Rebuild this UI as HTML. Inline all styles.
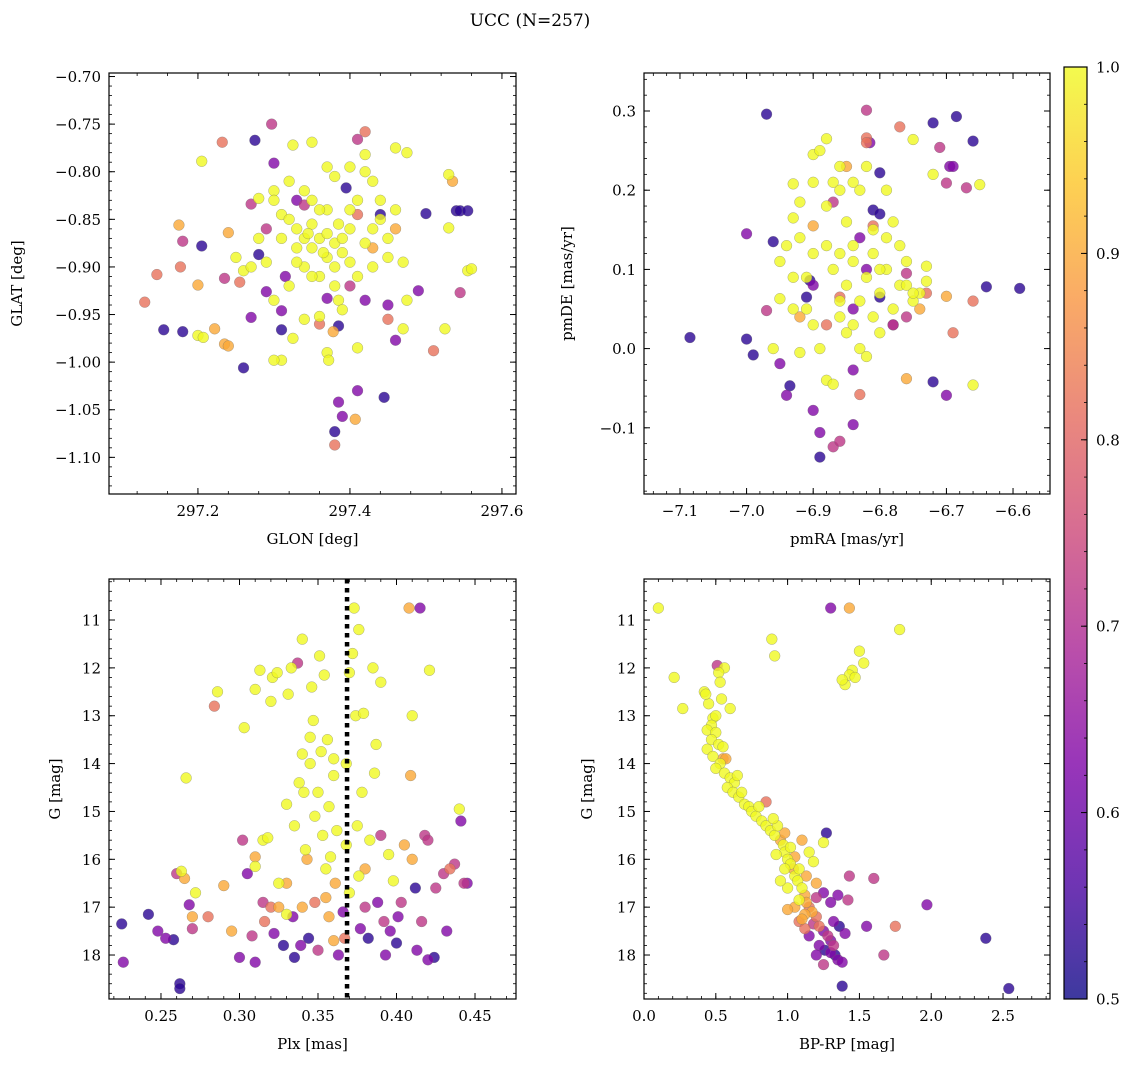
<!DOCTYPE html>
<html><head><meta charset="utf-8">
<style>
html,body{margin:0;padding:0;background:#fff;}
svg{display:block;font-family:"DejaVu Serif","Liberation Serif",serif;}
</style></head>
<body>
<svg id="chart" width="1136" height="1067" viewBox="0 0 1136 1067" xmlns="http://www.w3.org/2000/svg">
<text x="530" y="26" font-size="17" text-anchor="middle">UCC (N=257)</text>
<defs>
<linearGradient id="plasma" x1="0" y1="1" x2="0" y2="0">
<stop offset="0" stop-color="#0d0887"/><stop offset="0.125" stop-color="#4c02a1"/><stop offset="0.25" stop-color="#7e03a8"/><stop offset="0.375" stop-color="#a92395"/><stop offset="0.5" stop-color="#cc4778"/><stop offset="0.625" stop-color="#e56b5d"/><stop offset="0.75" stop-color="#f89540"/><stop offset="0.875" stop-color="#fdc527"/><stop offset="1" stop-color="#f0f921"/>
</linearGradient>
</defs>
<g id="panels"></g>
</svg>
<script>
// color values: Y=yellow, O=orange, S=salmon, M=magenta, P=purple, D=dark
const Y=1.0,O=0.9,S=0.82,M=0.72,P=0.63,D=0.53;
const glonGlat=[
[297.146,-0.908,S],[297.13,-0.937,S],[297.155,-0.966,D],[297.18,-0.968,D],[297.175,-0.856,O],[297.18,-0.873,M],[297.177,-0.900,S],[297.205,-0.878,D],[297.2,-0.919,O],[297.205,-0.789,Y],[297.2,-0.972,Y],[297.207,-0.974,Y],[297.232,-0.769,S],[297.222,-0.965,O],[297.235,-0.981,O],[297.24,-0.983,O],[297.24,-0.864,O],[297.235,-0.912,M],[297.255,-0.916,S],[297.26,-0.904,Y],[297.26,-1.006,D],[297.27,-0.953,P],[297.27,-0.834,M],[297.275,-0.767,D],[297.28,-0.828,Y],[297.28,-0.887,D],[297.29,-0.926,P],[297.297,-0.750,M],[297.3,-0.791,P],[297.31,-0.966,D],[297.31,-0.946,P],[297.31,-0.998,Y],[297.3,-0.998,Y],[297.325,-0.772,Y],[297.33,-0.83,P],[297.35,-0.769,Y],[297.36,-0.952,Y],[297.37,-0.933,P],[297.37,-0.99,Y],[297.372,-0.998,Y],[297.385,-0.962,D],[297.385,-1.042,P],[297.39,-1.057,P],[297.38,-1.073,D],[297.38,-1.087,S],[297.395,-0.817,D],[297.41,-0.766,M],[297.42,-0.758,S],[297.42,-0.782,Y],[297.41,-1.03,P],[297.407,-1.06,O],[297.445,-1.037,D],[297.44,-0.845,D],[297.45,-0.94,P],[297.46,-0.977,P],[297.45,-0.955,S],[297.47,-0.965,Y],[297.475,-0.78,Y],[297.49,-0.925,P],[297.5,-0.844,D],[297.51,-0.988,S],[297.525,-0.965,Y],[297.53,-0.859,Y],[297.53,-0.803,Y],[297.535,-0.810,O],[297.54,-0.841,D],[297.545,-0.841,D],[297.555,-0.841,D],[297.545,-0.927,M],[297.555,-0.904,Y],[297.56,-0.902,Y],
[297.3,-0.82,Y],[297.3,-0.83,Y],[297.31,-0.845,Y],[297.32,-0.85,Y],[297.33,-0.86,Y],[297.34,-0.87,Y],[297.35,-0.88,Y],[297.35,-0.855,Y],[297.36,-0.87,Y],[297.37,-0.865,Y],[297.37,-0.89,Y],[297.38,-0.875,Y],[297.38,-0.9,Y],[297.39,-0.87,Y],[297.39,-0.885,Y],[297.4,-0.86,Y],[297.4,-0.895,Y],[297.34,-0.9,Y],[297.33,-0.895,Y],[297.36,-0.91,Y],[297.38,-0.92,Y],[297.385,-0.935,Y],[297.39,-0.945,Y],[297.37,-0.84,Y],[297.36,-0.84,Y],[297.35,-0.83,Y],[297.38,-0.805,Y],[297.37,-0.795,Y],[297.4,-0.795,Y],[297.41,-0.83,Y],[297.42,-0.8,Y],[297.43,-0.81,Y],[297.44,-0.85,Y],[297.45,-0.87,Y],[297.45,-0.89,Y],[297.46,-0.84,Y],[297.46,-0.775,Y],[297.47,-0.895,Y],[297.475,-0.935,Y],[297.43,-0.9,Y],[297.42,-0.875,Y],[297.41,-0.91,Y],[297.32,-0.92,Y],[297.3,-0.935,Y],[297.29,-0.895,Y],[297.28,-0.87,Y],[297.27,-0.9,Y],[297.25,-0.89,Y],[297.31,-0.87,Y],[297.32,-0.81,Y],[297.34,-0.82,Y],[297.4,-0.84,Y],[297.35,-0.91,Y],[297.365,-0.885,Y],[297.345,-0.865,Y],[297.385,-0.855,Y],[297.43,-0.86,Y],[297.44,-0.83,Y],[297.325,-0.975,Y],[297.34,-0.955,Y],[297.41,-0.985,Y],[297.33,-0.88,Y],
[297.36,-0.96,S],[297.41,-0.845,S],[297.43,-0.88,O],[297.46,-0.86,O],[297.378,-0.968,O],[297.34,-0.835,M],[297.4,-0.92,M],[297.42,-0.935,P],[297.29,-0.86,M],[297.315,-0.91,P]
];
const pmraPmde=[
[-7.085,0.014,D],[-7.0,0.145,P],[-7.0,0.012,D],[-6.99,-0.008,D],[-6.97,0.048,M],[-6.97,0.296,D],[-6.96,0.135,D],[-6.95,-0.019,P],[-6.95,0.063,Y],[-6.94,-0.059,P],[-6.935,-0.047,D],[-6.93,0.208,Y],[-6.93,0.09,Y],[-6.92,0.185,Y],[-6.91,0.065,D],[-6.905,0.086,D],[-6.9,0.245,Y],[-6.9,-0.078,P],[-6.89,-0.137,D],[-6.89,-0.106,P],[-6.87,-0.124,M],[-6.86,-0.117,M],[-6.84,-0.096,P],[-6.84,-0.027,P],[-6.83,-0.058,S],[-6.82,0.266,S],[-6.815,0.26,P],[-6.81,0.175,D],[-6.80,0.222,D],[-6.82,0.301,M],[-6.78,0.03,P],[-6.77,0.28,S],[-6.76,-0.038,O],[-6.75,0.264,Y],[-6.72,0.285,D],[-6.72,0.22,Y],[-6.71,0.254,M],[-6.70,0.209,M],[-6.695,0.23,P],[-6.69,0.23,P],[-6.685,0.293,D],[-6.67,0.203,M],[-6.66,0.262,D],[-6.66,0.06,S],[-6.65,0.207,Y],[-6.64,0.078,D],[-6.66,-0.046,Y],[-6.7,-0.059,P],[-6.72,-0.042,D],[-6.69,0.02,S],[-6.59,0.076,D],[-6.73,0.104,Y],[-6.70,0.066,O],
[-6.92,0.14,Y],[-6.9,0.12,Y],[-6.88,0.13,Y],[-6.87,0.1,Y],[-6.86,0.12,Y],[-6.85,0.08,Y],[-6.84,0.11,Y],[-6.83,0.06,Y],[-6.82,0.09,Y],[-6.81,0.12,Y],[-6.8,0.07,Y],[-6.79,0.1,Y],[-6.78,0.05,Y],[-6.77,0.08,Y],[-6.76,0.11,Y],[-6.75,0.06,Y],[-6.74,0.07,Y],[-6.88,0.18,Y],[-6.87,0.21,Y],[-6.86,0.2,Y],[-6.85,0.16,Y],[-6.84,0.21,Y],[-6.83,0.2,Y],[-6.82,0.23,Y],[-6.81,0.15,Y],[-6.9,0.21,Y],[-6.89,0.25,Y],[-6.88,0.265,Y],[-6.91,0.05,Y],[-6.9,0.03,Y],[-6.89,0.0,Y],[-6.88,-0.04,Y],[-6.87,-0.045,Y],[-6.86,0.04,Y],[-6.85,0.02,Y],[-6.84,0.03,Y],[-6.83,0.0,Y],[-6.82,-0.01,Y],[-6.81,0.04,Y],[-6.8,0.02,Y],[-6.79,0.14,Y],[-6.78,0.16,Y],[-6.77,0.13,Y],[-6.76,0.08,Y],[-6.95,0.11,Y],[-6.94,0.13,Y],[-6.93,0.05,Y],[-6.92,-0.005,Y],[-6.91,0.09,Y],[-6.86,0.06,Y],[-6.84,0.13,Y],[-6.8,0.1,Y],[-6.73,0.085,Y],[-6.75,0.07,Y],[-6.79,0.2,Y],[-6.86,0.23,Y],[-6.93,0.165,Y],[-6.96,0.0,Y],
[-6.9,0.155,O],[-6.87,0.185,M],[-6.83,0.14,P],[-6.8,0.065,D],[-6.84,0.05,P],[-6.78,0.03,M],[-6.76,0.095,M],[-6.86,0.065,S],[-6.82,0.1,P],[-6.8,0.17,D],[-6.88,0.03,S],[-6.92,0.04,O],[-6.85,0.23,O],[-6.82,0.26,S],[-6.9,0.08,P],[-6.81,0.155,S],[-6.74,0.05,O],[-6.73,0.07,S],[-6.76,0.04,M]
];
const plxG=[
[0.225,17.35,D],[0.226,18.15,P],[0.242,17.15,D],[0.248,17.5,P],[0.253,17.65,P],[0.258,17.68,D],[0.262,18.6,D],[0.262,18.7,D],[0.26,16.3,M],[0.263,16.25,Y],[0.265,16.4,O],[0.266,14.3,Y],[0.268,16.95,P],[0.27,17.2,O],[0.272,16.7,Y],[0.27,17.45,M],[0.28,17.2,S],[0.284,12.8,S],[0.286,12.5,Y],[0.29,16.55,O],[0.295,17.5,O],[0.3,18.05,P],[0.302,15.6,M],[0.303,13.25,Y],[0.305,16.3,P],[0.308,17.6,M],[0.31,12.45,Y],[0.31,15.95,O],[0.31,16.15,Y],[0.31,18.15,P],[0.313,12.05,Y],[0.315,16.9,M],[0.315,15.6,Y],[0.316,17.3,S],[0.318,15.55,Y],[0.32,12.7,Y],[0.321,12.2,Y],[0.322,17.55,P],[0.324,12.1,Y],[0.325,17.0,O],[0.325,16.5,Y],[0.328,17.8,D],[0.33,16.5,O],[0.33,14.85,Y],[0.331,12.55,Y],[0.333,12.0,Y],[0.334,17.2,P],[0.335,18.05,D],[0.335,15.3,Y],[0.337,11.9,M],[0.338,14.4,Y],[0.339,17.8,P],[0.34,11.4,Y],[0.34,13.8,Y],[0.341,14.6,Y],[0.342,15.8,Y],[0.343,16.0,O],[0.344,17.65,D],[0.345,13.45,Y],[0.345,14.0,Y],[0.346,12.4,Y],[0.347,13.1,Y],[0.348,15.1,Y],[0.348,16.9,S],[0.35,14.6,Y],[0.35,17.9,M],[0.351,11.75,Y],[0.352,13.75,Y],[0.353,15.5,Y],[0.354,12.15,Y],[0.355,16.2,Y],[0.356,13.5,Y],[0.357,17.2,O],[0.357,14.9,Y],[0.358,15.95,Y],[0.36,13.9,Y],[0.36,14.25,Y],[0.361,16.5,O],[0.362,15.4,Y],[0.363,18.0,P],[0.373,10.75,Y],[0.366,17.1,P],[0.367,17.65,S],[0.368,14.0,Y],[0.368,15.7,Y],[0.37,16.7,Y],[0.37,12.1,Y],[0.372,11.7,Y],[0.376,11.2,Y],[0.374,13.0,Y],[0.375,15.3,Y],[0.376,16.35,Y],[0.377,17.45,P],[0.378,14.6,Y],[0.379,12.95,Y],[0.38,16.2,O],[0.38,17.0,M],[0.382,17.65,D],[0.383,15.6,Y],[0.385,12.0,Y],[0.386,14.2,Y],[0.387,13.6,Y],[0.388,16.9,P],[0.39,12.3,Y],[0.39,15.5,M],[0.392,17.3,M],[0.393,18.0,P],[0.395,15.9,Y],[0.396,17.5,P],[0.398,16.45,Y],[0.4,17.75,D],[0.401,17.2,P],[0.403,16.9,M],[0.405,15.7,O],[0.408,10.75,O],[0.409,14.25,O],[0.41,13.0,Y],[0.41,16.0,O],[0.412,16.6,D],[0.413,17.9,P],[0.415,10.75,P],[0.416,17.3,M],[0.418,15.5,M],[0.42,15.6,M],[0.42,18.1,P],[0.421,12.05,Y],[0.424,18.05,D],[0.425,16.6,M],[0.43,16.3,M],[0.432,17.5,P],[0.434,16.2,S],[0.437,16.1,M],[0.44,14.95,Y],[0.441,15.2,P],[0.443,16.5,M],[0.445,16.5,P],[0.36,17.7,O],[0.355,16.8,O],[0.34,17.0,O],[0.33,17.15,Y],[0.32,17.0,S]
];
const bprpG=[
[0.1,10.75,Y],[0.21,12.2,Y],[0.27,12.85,Y],[0.89,11.4,Y],[0.91,11.75,Y],[1.3,10.75,P],[1.43,10.75,O],[1.78,11.2,Y],[1.5,11.65,Y],[1.53,11.9,Y],[1.45,12.05,Y],[1.43,12.15,Y],[1.47,12.2,Y],[1.4,12.35,Y],[1.38,12.25,Y],
[0.42,12.5,Y],[0.45,12.75,Y],[0.48,13.05,Y],[0.47,13.2,Y],[0.44,13.3,Y],[0.5,13.35,Y],[0.47,13.5,Y],[0.44,13.7,Y],[0.52,13.6,Y],[0.48,13.85,Y],[0.53,14.0,Y],[0.55,13.9,O],[0.5,14.1,Y],[0.56,14.2,Y],[0.6,14.3,Y],[0.63,14.4,Y],[0.58,14.5,Y],[0.62,14.6,Y],[0.66,14.7,Y],[0.7,14.85,Y],[0.73,14.9,Y],[0.75,15.0,Y],[0.78,15.1,Y],[0.82,15.2,Y],[0.85,15.3,Y],[0.88,15.4,Y],[0.91,15.5,Y],[0.95,15.6,O],[0.97,15.7,Y],[0.98,15.85,Y],[1.0,16.0,Y],[1.02,16.1,Y],[1.04,16.2,O],[1.05,16.35,Y],[1.07,16.45,Y],[1.1,16.6,Y],[1.12,16.75,O],[1.13,16.9,O],[1.15,17.0,S],[1.17,17.1,O],[1.2,17.2,S],[1.12,17.15,O],[1.1,17.25,O],[1.18,17.35,M],[1.22,17.4,S],[1.25,17.5,P],[1.28,17.6,M],[1.3,17.7,P],[1.32,17.8,M],[1.3,17.95,P],[1.35,18.1,P],[1.33,18.0,D],[1.22,17.8,P],[1.26,17.9,D],[1.38,18.15,P],[1.38,18.65,D],[1.4,17.55,P],[1.36,17.4,D],[1.32,17.3,P],[1.3,16.9,P],[1.35,16.75,P],[1.25,16.7,P],[1.2,16.8,M],[1.2,16.5,O],[1.13,16.35,O],[1.08,16.2,Y],[1.05,15.95,O],[1.02,15.75,Y],[0.98,15.45,O],[1.1,15.6,O],[1.15,15.85,Y],[1.18,16.05,Y],[0.93,15.3,Y],[0.85,14.8,S],[0.57,13.9,O],[0.56,12.0,Y],[0.51,11.95,M],[0.52,12.1,Y],[0.53,12.3,Y],[1.27,15.45,D],[1.25,15.65,Y],[1.43,16.35,M],[1.42,16.85,M],[1.6,16.4,M],[1.55,17.4,P],[1.67,18.0,M],[1.75,17.4,S],[1.97,16.95,P],[2.38,17.65,D],[2.54,18.7,D],[1.08,16.85,Y],[1.0,16.6,Y],[0.95,16.45,Y],[0.98,16.2,Y],[0.92,15.9,Y],[1.05,17.0,O],[1.0,17.05,O],[1.08,17.3,S],[1.15,17.6,P],[1.12,17.45,S],[1.2,18.0,P],[1.25,18.2,M],[0.9,15.15,Y],[0.8,14.9,Y],[0.68,14.6,Y],[0.65,14.25,Y],[0.55,13.65,Y],[0.5,13.0,Y],[0.6,12.85,Y],[0.54,12.65,Y],[0.43,12.55,Y]
];
const plxLine=0.3685;
const glonTicks=[297.2,297.4,297.6];
const glatTicks=[-0.70,-0.75,-0.80,-0.85,-0.90,-0.95,-1.00,-1.05,-1.10];
const pmraTicks=[-7.1,-7.0,-6.9,-6.8,-6.7,-6.6];
const pmdeTicks=[-0.1,0.0,0.1,0.2,0.3];
const plxTicks=[0.25,0.30,0.35,0.40,0.45];
const gTicks=[11,12,13,14,15,16,17,18];
const bprpTicks=[0.0,0.5,1.0,1.5,2.0,2.5];
const cbarTicks=[0.5,0.6,0.7,0.8,0.9,1.0];

const NS="http://www.w3.org/2000/svg";
const root=document.getElementById('panels');
function el(tag,attrs,parent){const e=document.createElementNS(NS,tag);for(const k in attrs)e.setAttribute(k,attrs[k]);(parent||root).appendChild(e);return e;}
const stops=[[0,[13,8,135]],[0.125,[76,2,161]],[0.25,[126,3,168]],[0.375,[169,35,149]],[0.5,[204,71,120]],[0.625,[229,107,93]],[0.75,[248,149,64]],[0.875,[253,197,39]],[1,[240,249,33]]];
function plasma(v){let t=Math.max(0,Math.min(1,(v-0.5)/0.5));for(let i=1;i<stops.length;i++){if(t<=stops[i][0]){const a=stops[i-1],b=stops[i];const f=(t-a[0])/(b[0]-a[0]);const c=a[1].map((x,j)=>Math.round(x+(b[1][j]-x)*f));return`rgb(${c})`;}}return'rgb(240,249,33)';}
function fmt(v,d){const s=Math.abs(v).toFixed(d);return (v<-1e-9?'\u2212':'')+s;}

function panel(cfg){
  const g=el('g',{});
  
  
  const {L,R,T,B}=cfg;
  const sx=v=>L+(v-cfg.xmin)/(cfg.xmax-cfg.xmin)*(R-L);
  const sy=cfg.invert?(v=>T+(v-cfg.ymin)/(cfg.ymax-cfg.ymin)*(B-T)):(v=>B-(v-cfg.ymin)/(cfg.ymax-cfg.ymin)*(B-T));
  const pts=cfg.data.slice().sort((a,b)=>a[2]-b[2]);
  const pg=el('g',{},g);
  
  
  pts.forEach(d=>{
    const c=el('circle',{cx:sx(d[0]),cy:sy(d[1]),r:5.4,fill:plasma(d[2]),'fill-opacity':0.8,stroke:'#6b6b6b','stroke-width':0.4,'stroke-opacity':0.7},pg);
    
    
  });
  if(cfg.vline!==undefined){
    const l=el('line',{x1:sx(cfg.vline),x2:sx(cfg.vline),y1:T,y2:B,stroke:'#000','stroke-width':4.5,'stroke-dasharray':'4.5,4.5'},g);
    
    
  }
  const fr=el('rect',{x:L,y:T,width:R-L,height:B-T,fill:'none',stroke:'#000','stroke-width':1.2},g);
  
  
  const mx0=Math.ceil(cfg.xmin/cfg.xminor-1e-9),mx1=Math.floor(cfg.xmax/cfg.xminor+1e-9);
  for(let i=mx0;i<=mx1;i++){const x=sx(i*cfg.xminor);el('line',{x1:x,x2:x,y1:B,y2:B-3,stroke:'#000','stroke-width':0.8},g);el('line',{x1:x,x2:x,y1:T,y2:T+3,stroke:'#000','stroke-width':0.8},g);}
  const my0=Math.ceil(Math.min(cfg.ymin,cfg.ymax)/cfg.yminor-1e-9),my1=Math.floor(Math.max(cfg.ymin,cfg.ymax)/cfg.yminor+1e-9);
  for(let i=my0;i<=my1;i++){const y=sy(i*cfg.yminor);el('line',{x1:L,x2:L+3,y1:y,y2:y,stroke:'#000','stroke-width':0.8},g);el('line',{x1:R,x2:R-3,y1:y,y2:y,stroke:'#000','stroke-width':0.8},g);}
  cfg.xticks.forEach(v=>{const x=sx(v);el('line',{x1:x,x2:x,y1:B,y2:B-6,stroke:'#000','stroke-width':1},g);el('line',{x1:x,x2:x,y1:T,y2:T+6,stroke:'#000','stroke-width':1},g);
    const t=el('text',{x:x,y:B+22,'font-size':15,'text-anchor':'middle'},g);t.textContent=fmt(v,cfg.xd);
    });
  cfg.yticks.forEach(v=>{const y=sy(v);el('line',{x1:L,x2:L+6,y1:y,y2:y,stroke:'#000','stroke-width':1},g);el('line',{x1:R,x2:R-6,y1:y,y2:y,stroke:'#000','stroke-width':1},g);
    const t=el('text',{x:L-8,y:y+5.5,'font-size':15,'text-anchor':'end'},g);t.textContent=fmt(v,cfg.yd);
    });
  const xt=el('text',{x:(L+R)/2,y:B+50,'font-size':15,'text-anchor':'middle'},g);xt.textContent=cfg.xlabel;
  
  const yx=cfg.ylabX,yy=(T+B)/2;
  const yt=el('text',{x:yx,y:yy,'font-size':15,'text-anchor':'middle',transform:`rotate(-90 ${yx} ${yy})`},g);yt.textContent=cfg.ylabel;
  
}
panel({name:'glon-glat-panel',L:109,R:516,T:73,B:494,xmin:297.083,xmax:297.6185,ymin:-1.1385,ymax:-0.6963,xminor:0.04,yminor:0.01,xticks:glonTicks,yticks:glatTicks,xd:1,yd:2,xlabel:'GLON [deg]',ylabel:'GLAT [deg]',ylabX:22,data:glonGlat});
panel({name:'pmra-pmde-panel',L:644,R:1050,T:73,B:494,xmin:-7.154,xmax:-6.5445,ymin:-0.1836,ymax:0.348,xminor:0.02,yminor:0.02,xticks:pmraTicks,yticks:pmdeTicks,xd:1,yd:1,xlabel:'pmRA [mas/yr]',ylabel:'pmDE [mas/yr]',ylabX:572,data:pmraPmde});
panel({name:'plx-g-panel',L:109,R:516,T:579,B:999,xmin:0.2169,xmax:0.4761,ymin:10.143,ymax:18.919,invert:true,xminor:0.01,yminor:0.2,xticks:plxTicks,yticks:gTicks,xd:2,yd:0,xlabel:'Plx [mas]',ylabel:'G [mag]',ylabX:60,data:plxG,vline:plxLine});
panel({name:'bprp-g-panel',L:644,R:1050,T:579,B:999,xmin:0.0,xmax:2.827,ymin:10.143,ymax:18.919,invert:true,xminor:0.1,yminor:0.2,xticks:bprpTicks,yticks:gTicks,xd:1,yd:0,xlabel:'BP-RP [mag]',ylabel:'G [mag]',ylabX:592,data:bprpG});

const cb=el('g',{});


const CL=1064,CR=1087,CT=67,CB=999;
el('rect',{x:CL,y:CT,width:CR-CL,height:CB-CT,fill:'url(#plasma)','fill-opacity':0.8},cb);
el('rect',{x:CL,y:CT,width:CR-CL,height:CB-CT,fill:'none',stroke:'#000','stroke-width':1.2},cb);
const cy=v=>CB-(v-0.5)/0.5*(CB-CT);
for(let i=25;i<=50;i++){const y=cy(i*0.02);el('line',{x1:CR,x2:CR-3,y1:y,y2:y,stroke:'#000','stroke-width':0.8},cb);}
cbarTicks.forEach(v=>{const y=cy(v);el('line',{x1:CR,x2:CR-6,y1:y,y2:y,stroke:'#000','stroke-width':1},cb);
  const t=el('text',{x:CR+9,y:y+5.5,'font-size':15},cb);t.textContent=v.toFixed(1);
  });
</script>
</body></html>
